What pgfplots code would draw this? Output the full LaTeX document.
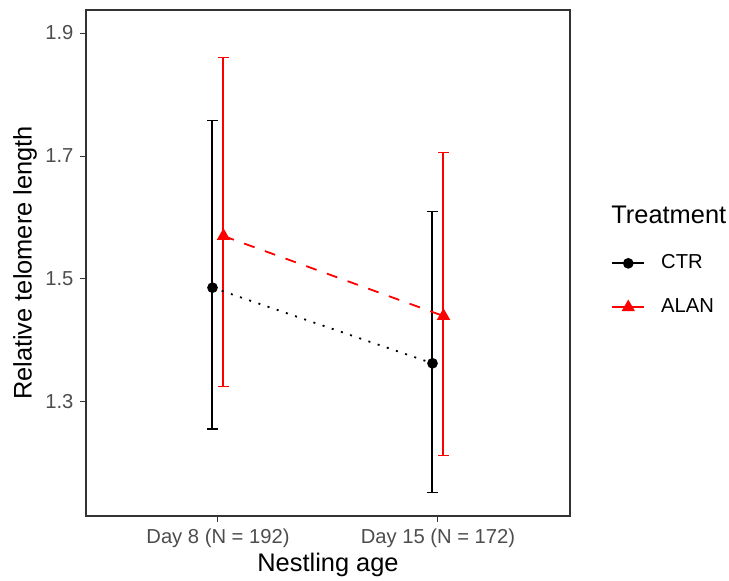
\documentclass[border=0pt]{standalone}
\usepackage{pgfplots}
\pgfplotsset{compat=1.18}
\usepackage{fontspec}
\setmainfont{Liberation Sans}
\definecolor{grey30}{RGB}{77,77,77}
\definecolor{grey20}{RGB}{51,51,51}
\definecolor{ggred}{RGB}{255,0,0}
\begin{document}
\begin{tikzpicture}
\useasboundingbox (0,0) rectangle (364.5pt,290pt);
\begin{axis}[
  at={(43pt,32pt)}, anchor=south west,
  scale only axis, width=242pt, height=253pt,
  xmin=0.4, xmax=2.6, ymin=1.1146, ymax=1.9374,
  xtick={1,2}, xticklabels={Day 8 (N = 192), Day 15 (N = 172)},
  ytick={1.3,1.5,1.7,1.9}, yticklabels={1.3,1.5,1.7,1.9},
  xtick pos=lower, ytick pos=left,
  tick align=outside, major tick length=2.75pt,
  tick style={grey20, line width=0.5pt},
  axis line style={grey20, line width=0.6pt},
  /pgf/number format/assume math mode=true,
  ticklabel style={font=\fontsize{10.1}{12}\selectfont, text=grey30},
  xlabel={Nestling age}, ylabel={Relative telomere length},
  label style={font=\fontsize{12.7}{15}\selectfont, text=black},
  xlabel style={at={(rel axis cs:0.5,-0.0968)}, anchor=center},
  ylabel style={at={(rel axis cs:-0.126,0.5)}, anchor=center},
  clip=false,
  legend style={at={(rel axis cs:1.0847,0.456)}, anchor=west, draw=none, fill=none,
    inner sep=0pt, row sep=9.5pt, font=\fontsize{10.1}{12}\selectfont, legend cell align=left,
    /tikz/every odd column/.append style={column sep=6pt}},
  legend image code/.code={\draw[mark repeat=2,mark phase=2,#1,solid,line width=0.9pt] plot coordinates {(0pt,0pt) (8pt,0pt) (16pt,0pt)};},
  errbar/.style={solid, line width=1pt, mark=-, mark size=2.75pt, forget plot},
]
% error bars: lower and upper limits
\addplot[errbar, draw=black, mark options={solid, draw=black, line width=0.7pt}] coordinates {(0.975,1.2561) (0.975,1.7574)};
\addplot[errbar, draw=black, mark options={solid, draw=black, line width=0.7pt}] coordinates {(1.975,1.1525) (1.975,1.6101)};
\addplot[errbar, draw=ggred, mark options={solid, draw=ggred, line width=0.7pt}] coordinates {(1.025,1.3255) (1.025,1.8598)};
\addplot[errbar, draw=ggred, mark options={solid, draw=ggred, line width=0.7pt}] coordinates {(2.025,1.2133) (2.025,1.7054)};
% means
\addplot[black, line width=0.9pt, dash pattern=on 1pt off 3.85pt,
  mark=*, mark size=2.2pt, mark options={solid}]
  table[x=x, y=y] {
  x     y
  0.975 1.4859
  1.975 1.3629
};
\addlegendentry{CTR}
\addplot[ggred, line width=0.9pt, dash pattern=on 5.5pt off 5.5pt,
  mark=triangle*, mark size=3pt, mark options={solid}]
  table[x=x, y=y] {
  x     y
  1.025 1.5699
  2.025 1.4398
};
\addlegendentry{ALAN}
\node[anchor=west, inner sep=0pt, font=\fontsize{12.7}{15}\selectfont] at (rel axis cs:1.0847,0.5949) {Treatment};
\end{axis}
\end{tikzpicture}
\end{document}
